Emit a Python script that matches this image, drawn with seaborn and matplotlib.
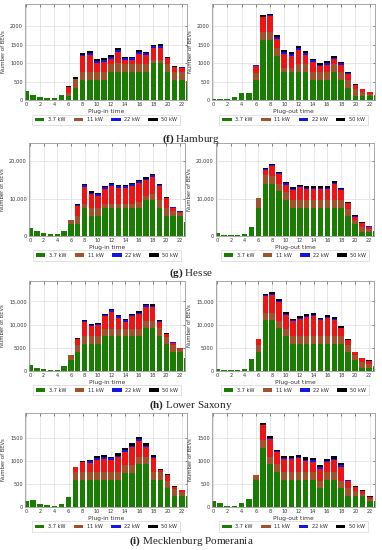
import numpy as np
import matplotlib
matplotlib.use("Agg")
import matplotlib.pyplot as plt
from matplotlib.patches import Patch
import seaborn as sns

hours = list(range(24))
categories = ["3.7 kW", "11 kW", "22 kW", "50 kW"]

# Hamburg plug-in
ham_in_37 = [250,130,70,55,45,140,110,320,540,540,540,540,770,770,770,770,770,770,990,990,770,540,540,320]
ham_in_11a = [0,0,0,0,0,0,90,250,230,230,230,230,200,220,200,200,200,200,100,100,200,230,230,200]
ham_in_11b = [0,0,0,0,0,0,140,0,420,450,240,260,150,300,100,100,280,240,310,320,160,120,110,0]
ham_in_22 = [0,0,0,0,0,0,10,10,30,50,50,50,50,60,55,55,55,50,50,50,20,15,10,0]
ham_in_50 = [0,0,0,0,0,0,30,30,40,50,50,45,45,45,45,45,45,45,50,50,20,15,10,0]
# Hamburg plug-out
ham_out_37 = [40,20,15,70,190,190,550,1620,1620,1200,770,770,770,770,550,550,550,770,550,330,110,110,110,110]
ham_out_11a = [0,0,0,0,0,0,180,210,210,200,100,100,200,200,200,200,200,200,200,200,200,100,60,15]
ham_out_11b = [0,0,0,0,0,0,200,420,440,250,380,320,380,250,270,160,200,130,200,170,90,80,50,0]
ham_out_22 = [0,0,0,0,0,0,5,10,30,50,50,50,50,50,50,45,45,50,40,30,10,5,0,0]
ham_out_50 = [0,0,0,0,0,0,10,30,40,50,50,50,50,50,50,45,50,50,45,30,15,5,0,0]
# Hesse plug-in
hes_in_37 = [2200,1240,700,530,530,1400,3200,3200,7500,5300,5300,7500,7500,7500,7500,7500,7500,9600,9600,7500,5300,5300,5300,3800]
hes_in_11a = [0,0,0,0,0,0,1050,2100,1000,2200,2200,1000,1000,1000,1000,1000,1500,1000,1500,2000,2200,1500,800,0]
hes_in_11b = [0,0,0,0,0,0,0,2700,4700,3650,3300,4100,4900,4400,4400,4950,5250,4250,4650,3800,2550,800,350,0]
hes_in_22 = [0,0,0,0,0,0,0,200,400,400,400,400,400,400,400,400,400,400,400,300,200,100,100,0]
hes_in_50 = [0,0,0,0,0,0,0,300,400,400,400,400,400,400,400,400,400,400,400,300,200,100,100,0]
# Hesse plug-out
hes_out_37 = [700,350,180,270,620,2500,7500,14000,14000,12000,9700,7500,7500,7500,7500,7500,7500,7500,7500,5300,3200,1000,1000,1000]
hes_out_11a = [0,0,0,0,0,0,2700,2200,2000,2000,2000,2000,2000,2000,2000,2000,2000,2000,2000,2000,1000,1500,1000,400]
hes_out_11b = [0,0,0,0,0,0,0,1500,2600,2450,2000,2850,3450,3100,3100,3100,3100,4300,2700,1400,1000,1000,500,0]
hes_out_22 = [0,0,0,0,0,0,0,200,300,300,350,300,300,300,300,300,300,350,250,200,150,100,100,0]
hes_out_50 = [0,0,0,0,0,0,0,300,300,400,400,400,400,400,400,400,400,450,350,200,150,150,100,0]
# Lower Saxony plug-in
lsx_in_37 = [1300,720,500,290,290,1000,2400,4200,5800,5800,5800,7500,7500,7500,7500,7500,7500,9200,9200,7500,5800,4100,4100,2800]
lsx_in_11a = [0,0,0,0,0,0,1000,1500,1700,1700,1700,1500,1500,1500,1500,1500,1500,1500,1500,1700,1500,1500,700,0]
lsx_in_11b = [0,0,0,0,0,0,0,1100,3000,2200,2400,2850,3800,2500,1650,2750,3300,3200,3050,1300,600,500,200,0]
lsx_in_22 = [0,0,0,0,0,0,0,0,200,200,200,200,250,250,250,250,250,250,250,200,100,50,25,0]
lsx_in_50 = [0,0,0,0,0,0,0,280,200,200,200,300,350,350,350,350,350,350,350,200,150,50,25,0]
# Lower Saxony plug-out
lsx_out_37 = [500,220,220,150,430,2600,4200,11000,11000,9200,7500,5800,5800,5800,5800,5800,5800,5800,5800,4200,2400,700,700,700]
lsx_out_11a = [0,0,0,0,0,0,1500,1600,1600,1600,1600,1700,1700,1700,1700,1700,1700,1700,1700,1500,1000,1200,900,450]
lsx_out_11b = [0,0,0,0,0,0,1100,3500,3800,4150,3050,3250,3750,4100,4300,3500,3950,3600,1700,900,600,800,600,0]
lsx_out_22 = [0,0,0,0,0,0,0,200,250,200,200,200,250,250,250,200,250,200,150,100,100,100,50,0]
lsx_out_50 = [0,0,0,0,0,0,0,300,350,300,300,300,350,350,350,300,350,300,250,150,100,100,50,0]
# Mecklenburg Pomerania plug-in
mvp_in_37 = [120,160,70,40,30,70,215,580,580,580,580,580,580,580,740,740,920,920,580,580,400,230,230,230]
mvp_in_11a = [0,0,0,0,0,0,0,170,170,170,170,170,170,170,170,170,170,170,170,170,170,150,100,0]
mvp_in_11b = [0,0,0,0,0,0,0,115,220,200,270,290,270,330,280,380,330,200,300,40,120,50,30,0]
mvp_in_22 = [0,0,0,0,0,0,0,0,10,35,35,35,30,30,35,35,40,35,30,10,10,5,5,0]
mvp_in_50 = [0,0,0,0,0,0,0,0,20,30,40,40,40,50,50,50,50,50,45,30,20,10,10,0]
# Mecklenburg Pomerania plug-out
mvp_out_37 = [130,85,20,20,80,180,580,1270,920,760,580,580,580,580,580,400,580,580,400,230,230,230,120,120]
mvp_out_11a = [0,0,0,0,0,0,120,170,170,170,170,170,170,170,170,170,170,170,170,170,120,60,60,10]
mvp_out_11b = [0,0,0,0,0,0,0,330,380,250,280,280,300,240,220,260,220,260,300,160,80,60,40,0]
mvp_out_22 = [0,0,0,0,0,0,0,10,20,25,35,35,35,35,35,35,30,35,35,15,5,5,5,0]
mvp_out_50 = [0,0,0,0,0,0,0,35,35,35,45,45,45,45,45,45,40,50,45,15,10,5,5,0]

captions = ["(f)", "(g)", "(h)", "(i)"]
states = ["Hamburg", "Hesse", "Lower Saxony", "Mecklenburg Pomerania"]

C_GREEN = "#1b7c03"
C_BROWN = "#a0522d"
C_RED = "#ec1414"
C_BLUE = "#1414e6"
C_BLACK = "#000000"

sns.set_style("white")
plt.rcParams["font.family"] = ["DejaVu Sans"]
plt.rcParams["mathtext.fontset"] = "custom"
plt.rcParams["mathtext.rm"] = "Liberation Serif"
plt.rcParams["mathtext.bf"] = "Liberation Serif:bold"

W, H = 382, 550
fig = plt.figure(figsize=(W / 100, H / 100), dpi=100)

panels = [
    ((ham_in_37, ham_in_11a, ham_in_11b, ham_in_22, ham_in_50), "Plug-in time", (25, 187, 4, 100), 2600,
     [0, 500, 1000, 1500, 2000], ["0", "500", "1000", "1500", "2000"]),
    ((ham_out_37, ham_out_11a, ham_out_11b, ham_out_22, ham_out_50), "Plug-out time", (212, 375, 4, 100), 2600,
     [0, 500, 1000, 1500, 2000], ["0", "500", "1000", "1500", "2000"]),
    ((hes_in_37, hes_in_11a, hes_in_11b, hes_in_22, hes_in_50), "Plug-in time", (29, 185, 143, 236), 24800,
     [0, 10000, 20000], ["0", "10,000", "20,000"]),
    ((hes_out_37, hes_out_11a, hes_out_11b, hes_out_22, hes_out_50), "Plug-out time", (216, 374, 143, 236), 24800,
     [0, 10000, 20000], ["0", "10,000", "20,000"]),
    ((lsx_in_37, lsx_in_11a, lsx_in_11b, lsx_in_22, lsx_in_50), "Plug-in time", (29, 185, 281, 371), 19400,
     [0, 5000, 10000, 15000], ["0", "5000", "10,000", "15,000"]),
    ((lsx_out_37, lsx_out_11a, lsx_out_11b, lsx_out_22, lsx_out_50), "Plug-out time", (216, 374, 281, 371), 19400,
     [0, 5000, 10000, 15000], ["0", "5000", "10,000", "15,000"]),
    ((mvp_in_37, mvp_in_11a, mvp_in_11b, mvp_in_22, mvp_in_50), "Plug-in time", (25, 187, 413, 507), 2030,
     [0, 500, 1000, 1500], ["0", "500", "1000", "1500"]),
    ((mvp_out_37, mvp_out_11a, mvp_out_11b, mvp_out_22, mvp_out_50), "Plug-out time", (212, 375, 413, 507), 2030,
     [0, 500, 1000, 1500], ["0", "500", "1000", "1500"]),
]

legend_handles = [Patch(facecolor=C_GREEN, edgecolor="none"),
                  Patch(facecolor=C_BROWN, edgecolor="none"),
                  Patch(facecolor=C_BLUE, edgecolor="none"),
                  Patch(facecolor=C_BLACK, edgecolor="none")]

for (data, xlabel, (x0, x1, yt, yb), ymax, yticks, ylabels) in panels:
    ax = fig.add_axes([x0 / W, 1 - yb / H, (x1 - x0) / W, (yb - yt) / H])
    ax.set_axisbelow(True)
    g, b, r, u, k = [np.array(a, dtype=float) for a in data]
    layers = [
        (g + b + r + u + k, C_BLACK),
        (g + b + r + u, C_BLUE),
        (g + b + r, C_RED),
        (g + b, C_BROWN),
        (g, C_GREEN),
    ]
    for vals, col in layers:
        sns.barplot(x=hours, y=vals, color=col, width=0.8, native_scale=True,
                    errorbar=None, saturation=1, linewidth=0, ax=ax)
    ax.set_xlim(-0.15, 22.75)
    ax.set_ylim(0, ymax)
    ax.set_xticks(range(0, 23, 2))
    ax.set_xticklabels([str(h) for h in range(0, 23, 2)])
    ax.set_yticks(yticks)
    ax.set_yticklabels(ylabels)
    ax.grid(True, color="#dcdcdc", linewidth=0.5)
    for s in ax.spines.values():
        s.set_color("#999999")
        s.set_linewidth(0.6)
    ax.tick_params(axis="both", labelsize=3.6, direction="in", length=1.8, width=0.4,
                   top=True, right=True, pad=1.5, colors="#333333", labelcolor="#333333")
    ax.set_xlabel(xlabel, fontsize=4.3, labelpad=1.5, color="#333333")
    ax.set_ylabel("Number of BEVs", fontsize=3.8, labelpad=3, color="#333333")
    leg = ax.legend(legend_handles, categories, loc="upper center", bbox_to_anchor=(0.5, -0.125),
                    ncol=4, fontsize=3.6, frameon=True, handlelength=1.9, handleheight=0.7,
                    columnspacing=1.7, handletextpad=0.7, borderpad=0.55, fancybox=False,
                    edgecolor="#cccccc", framealpha=1)
    leg.get_frame().set_linewidth(0.4)

cap_y = [139, 273, 405, 541]
for cap, st, yy in zip(captions, states, cap_y):
    fig.text(0.5, 1 - yy / H, r"$\mathbf{" + cap + "}$ " + st, ha="center", va="center",
             fontsize=8, family="Liberation Serif", color="#222222")

fig.savefig("out.png", dpi=100)
